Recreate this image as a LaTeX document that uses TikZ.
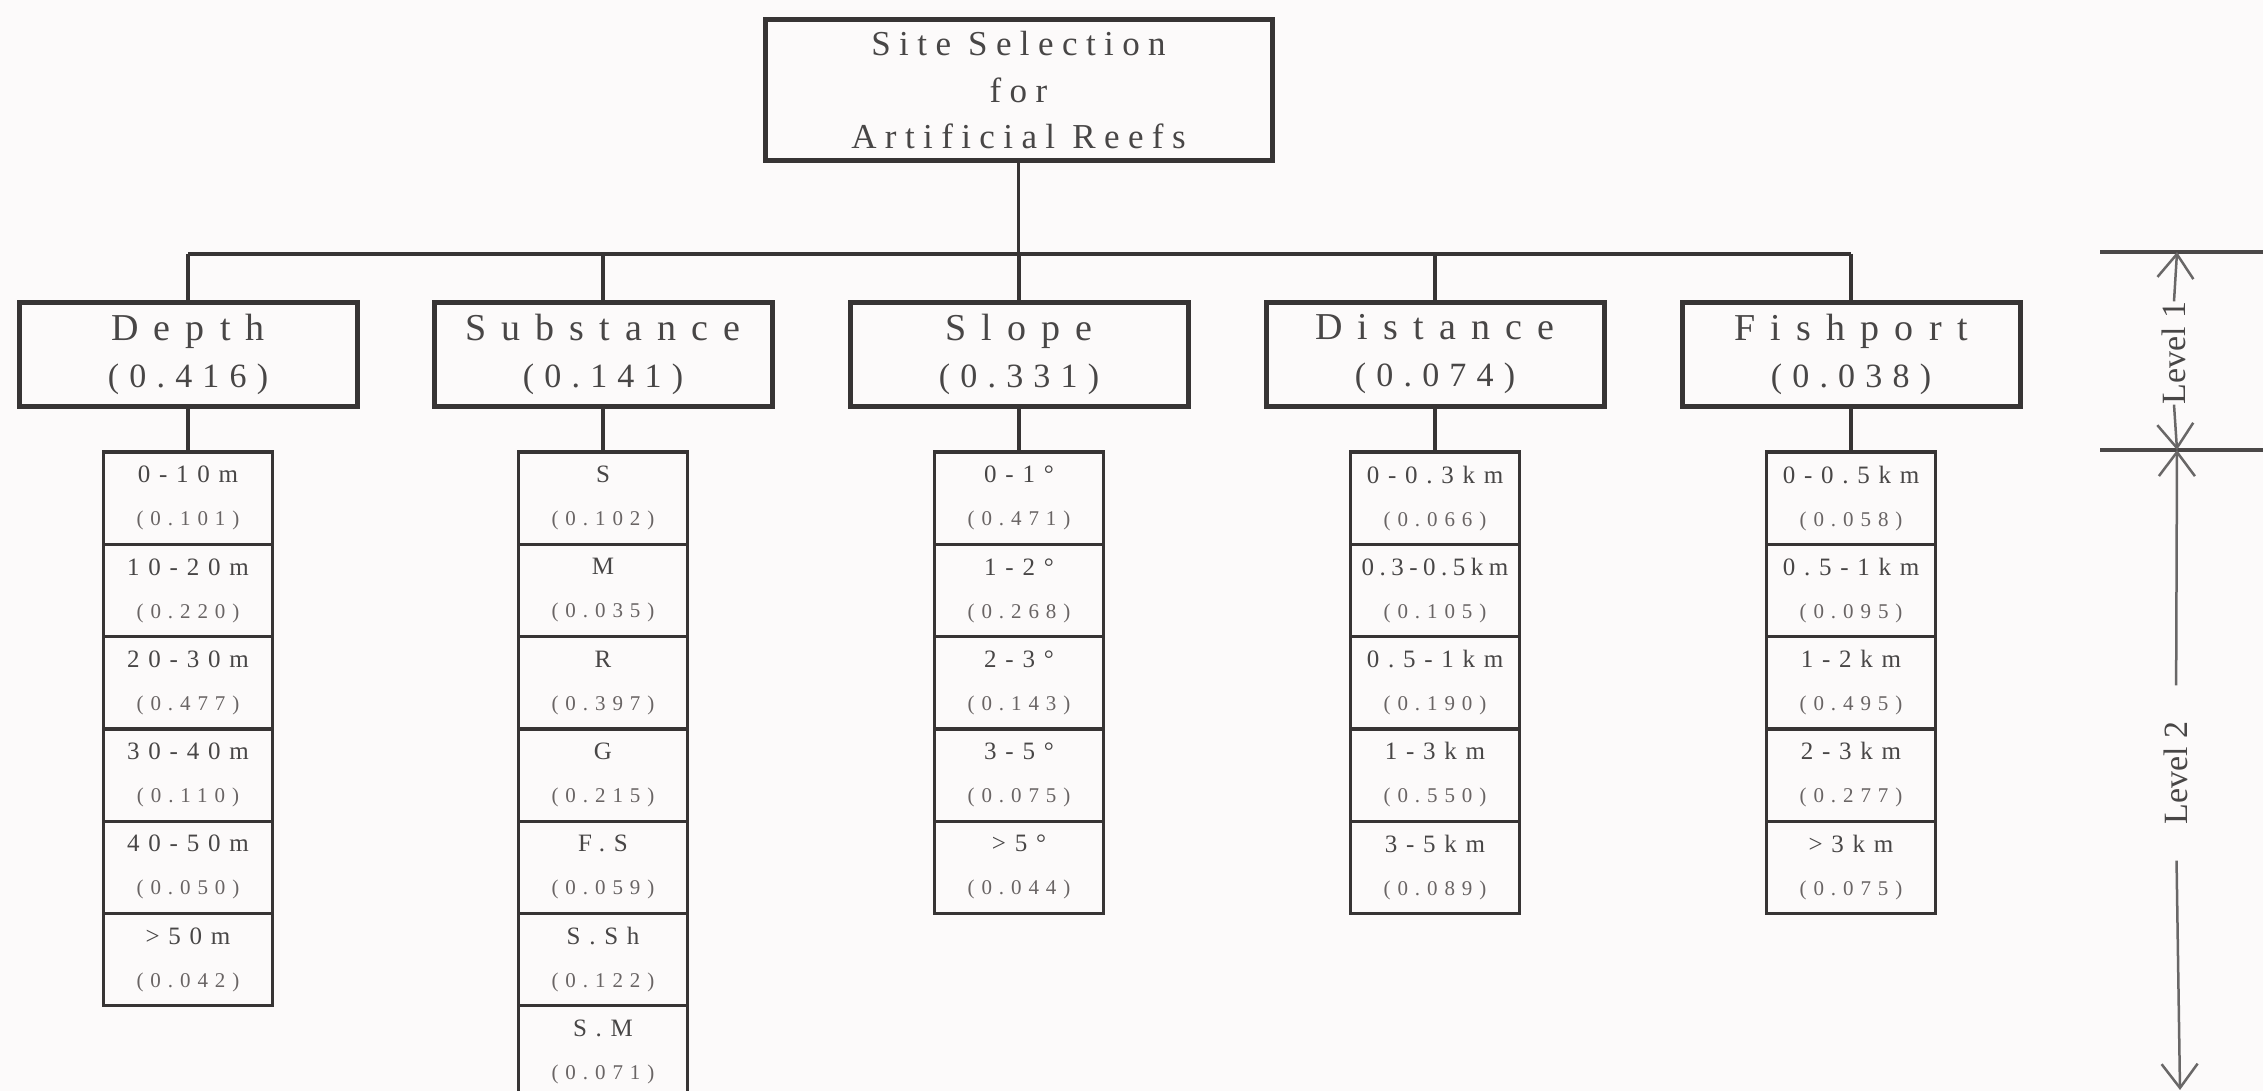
\documentclass[tikz,border=0pt]{standalone}
\usepackage{fontspec}
\setmainfont{Liberation Serif}
\newfontfamily\spA[LetterSpace=24]{Liberation Serif}
\newfontfamily\spB[LetterSpace=40]{Liberation Serif}
\newfontfamily\spC[LetterSpace=30]{Liberation Serif}
\newfontfamily\spD[LetterSpace=35]{Liberation Serif}
\newfontfamily\spE[LetterSpace=33]{Liberation Serif}
\newfontfamily\spF[LetterSpace=22]{Liberation Serif}
\usetikzlibrary{arrows.meta}
\definecolor{bg}{RGB}{252,250,250}
\definecolor{ink}{RGB}{55,52,52}
\definecolor{txt}{RGB}{72,70,70}
\definecolor{txtl}{RGB}{105,100,100}
\newcommand\lab[1]{{\spD\fontsize{25}{43}\selectfont #1}}
\newcommand\val[1]{{\spE\fontsize{21}{43}\selectfont\color{txtl}(#1)}}
\newcommand\lname[1]{{\spB\fontsize{38}{47}\selectfont #1}}
\newcommand\lval[1]{{\spC\fontsize{34}{47}\selectfont (#1)}}
\tikzset{
  rootbox/.style={draw=ink, line width=5pt, minimum width=507pt, minimum height=141pt, inner sep=0pt, align=center, text=txt, font=\spA\fontsize{35}{46.5}\selectfont},
  critbox/.style={draw=ink, line width=5pt, minimum width=338pt, minimum height=103pt, inner sep=0pt, align=center, text=txt, font=\fontsize{38}{47}\selectfont},
  cell/.style={draw=ink, line width=3.2pt, minimum width=169pt, minimum height=92.3pt, inner sep=0pt, align=center, text=txt, font=\fontsize{25}{43}\selectfont},
  conn/.style={draw=ink, line width=3.5pt},
  levline/.style={draw=ink!90, line width=4pt},
  levarr/.style={draw=ink!75, line width=2.5pt, -{Straight Barb[length=24pt,width=36pt,line width=2.5pt]}},
  levtext/.style={rotate=90, text=txt, font=\fontsize{34}{40}\selectfont, inner sep=0pt}
}
\begin{document}
\begin{tikzpicture}[x=1pt,y=-1pt]
\fill[bg] (0,0) rectangle (2263,1091);
\useasboundingbox (0,0) rectangle (2263,1091);

% root
\node[rootbox] (root) at (1018.5,90.5) {Site Selection\\for\\Artificial Reefs};

% level 1
\node[critbox] (c1) at (188,354.5)  {\lname{Depth}\\\lval{0.416}};
\node[critbox] (c2) at (603,354.5)  {\lname{Substance}\\\lval{0.141}};
\node[critbox] (c3) at (1019,354.5) {\lname{Slope}\\\lval{0.331}};
\node[critbox] (c4) at (1435,354.5) {\lname{Distance}\\\lval{0.074}};
\node[critbox] (c5) at (1851,354.5) {\lname{Fishport}\\\lval{0.038}};

% bus
\coordinate (bus) at (1019,254);
\draw[conn] (root.south) -- (root.south |- bus);
\draw[conn] (bus -| c1.north) -- (bus -| c5.north);
\foreach \i in {1,...,5} {
  \draw[conn] (bus -| c\i.north) -- (c\i.north);
}

% level 2 lists
\foreach [count=\k] \a/\b in {0-10m/0.101,10-20m/0.220,20-30m/0.477,30-40m/0.110,40-50m/0.050,>50m/0.042}
  \node[cell] (d\k) at (188,{452+92.3*(\k-0.5)}) {\lab{\a}\\\val{\b}};
\foreach [count=\k] \a/\b in {S/0.102,M/0.035,R/0.397,G/0.215,F.S/0.059,S.Sh/0.122,S.M/0.071}
  \node[cell] (s\k) at (603,{452+92.3*(\k-0.5)}) {\lab{\a}\\\val{\b}};
\foreach [count=\k] \a/\b in {0-1°/0.471,1-2°/0.268,2-3°/0.143,3-5°/0.075,>5°/0.044}
  \node[cell] (p\k) at (1019,{452+92.3*(\k-0.5)}) {\lab{\a}\\\val{\b}};
\foreach [count=\k] \a/\b in {0-0.3km/0.066,{\spF 0.3-0.5km}/0.105,0.5-1km/0.190,1-3km/0.550,3-5km/0.089}
  \node[cell] (t\k) at (1435,{452+92.3*(\k-0.5)}) {\lab{\a}\\\val{\b}};
\foreach [count=\k] \a/\b in {0-0.5km/0.058,0.5-1km/0.095,1-2km/0.495,2-3km/0.277,>3km/0.075}
  \node[cell] (f\k) at (1851,{452+92.3*(\k-0.5)}) {\lab{\a}\\\val{\b}};

\draw[conn] (c1.south) -- (d1.north);
\draw[conn] (c2.south) -- (s1.north);
\draw[conn] (c3.south) -- (p1.north);
\draw[conn] (c4.south) -- (t1.north);
\draw[conn] (c5.south) -- (f1.north);

% level markers
\coordinate (la) at (2100,252);
\coordinate (lb) at (2100,450);
\draw[levline] (la) -- ++(163,0);
\draw[levline] (lb) -- ++(163,0);
\node[levtext] (lv1) at (2174,353) {Level 1};
\node[levtext] (lv2) at (2176,773) {Level 2};
\coordinate (l1t) at (2177,252);
\coordinate (l1b) at (2177,450);
\coordinate (l2b) at (2180,1090);
\draw[levarr] (lv1.east) -- (l1t);
\draw[levarr] (lv1.west) -- (l1b);
\draw[levarr, shorten <=36pt] (lv2.east) -- (l1b);
\draw[levarr, shorten <=36pt] (lv2.west) -- (l2b);
\end{tikzpicture}
\end{document}
